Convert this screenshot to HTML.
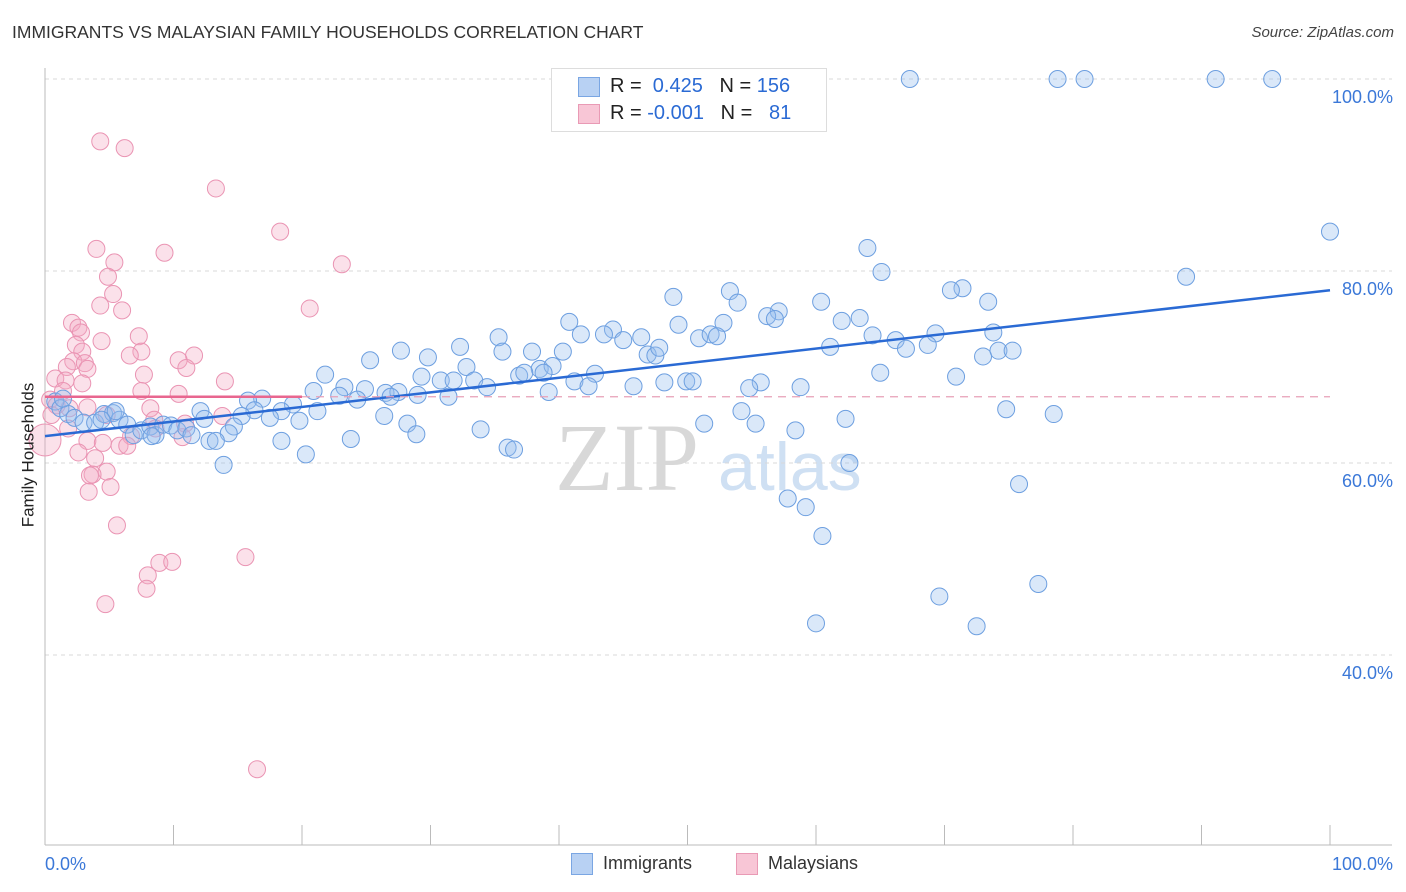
<!DOCTYPE html>
<html><head><meta charset="utf-8"><style>
body{margin:0;background:#fff;font-family:"Liberation Sans",sans-serif;}
#wrap{position:relative;width:1406px;height:892px;overflow:hidden;}
.t{position:absolute;white-space:nowrap;}
</style></head><body>
<div id="wrap">
<div class="t" style="left:12px;top:22px;font-size:17.5px;color:#333;">IMMIGRANTS VS MALAYSIAN FAMILY HOUSEHOLDS CORRELATION CHART</div>
<div class="t" style="right:12px;top:24px;font-size:15px;color:#444;font-style:italic;">Source: ZipAtlas.com</div>
<svg id="chart" width="1406" height="892" style="position:absolute;left:0;top:0;">
<text x="555" y="490" font-family="Liberation Serif,serif" font-size="96" fill="#d8d8d8">ZIP</text>
<text x="718" y="490" font-family="Liberation Sans,sans-serif" font-size="68" fill="#cfe0f3">atlas</text>
</svg>
<div class="t" style="left:-44px;top:445px;font-size:17px;color:#222;transform:rotate(-90deg);">Family Households</div>
<div style="position:absolute;left:551px;top:68px;width:274px;height:62px;border:1px solid #ddd;background:#fff;">
 <div style="position:absolute;left:26px;top:8px;width:20px;height:18px;background:#b8d1f3;border:1px solid #7aa6e3;"></div>
 <div class="t" style="left:58px;top:6px;font-size:20px;color:#222;">R = <span style="color:#2a6ad4">&nbsp;0.425</span>&nbsp;&nbsp;&nbsp;N = <span style="color:#2a6ad4">156</span></div>
 <div style="position:absolute;left:26px;top:35px;width:20px;height:18px;background:#f8c6d6;border:1px solid #e99ab5;"></div>
 <div class="t" style="left:58px;top:33px;font-size:20px;color:#222;">R = <span style="color:#2a6ad4">-0.001</span>&nbsp;&nbsp;&nbsp;N = <span style="color:#2a6ad4">&nbsp;&nbsp;81</span></div>
</div>
<div style="position:absolute;left:571px;top:853px;width:20px;height:20px;background:#b8d1f3;border:1px solid #7aa6e3;"></div>
<div class="t" style="left:603px;top:853px;font-size:18px;color:#333;">Immigrants</div>
<div style="position:absolute;left:736px;top:853px;width:20px;height:20px;background:#f8c6d6;border:1px solid #e99ab5;"></div>
<div class="t" style="left:768px;top:853px;font-size:18px;color:#333;">Malaysians</div>
</div>
<script>
const blueX=[67.3,78.8,80.9,91.1,95.5,100,88.8,64.0,65.1,71.4,70.5,73.4,60.4,53.3,53.9,48.9,57.1,56.2,56.8,63.4,62.0,52.8,49.3,40.8,44.2,43.5,41.7,45.0,46.4,50.9,51.8,52.3,64.4,66.2,69.3,73.8,61.1,67.0,68.7,74.2,75.3,73.0,35.3,32.3,27.7,25.3,29.8,35.6,37.9,40.3,46.9,47.5,47.8,38.5,39.5,32.8,42.8,65.0,70.9,29.3,30.8,31.8,33.4,34.4,36.9,37.3,38.8,41.2,42.3,45.8,48.2,49.9,50.4,55.7,54.8,58.8,21.8,23.3,20.9,22.9,24.9,26.5,27.5,26.9,24.3,29.0,31.4,39.2,16.9,15.8,19.3,21.2,18.4,16.3,15.3,17.5,19.8,12.1,12.4,26.4,28.2,28.9,33.9,51.3,54.2,55.3,58.4,62.3,74.8,78.5,14.7,14.3,12.8,13.3,18.4,23.8,20.3,36.0,36.5,13.9,62.6,75.8,57.8,59.2,60.5,77.3,69.6,72.5,60.0,0.8,1.2,1.8,2.3,3.0,3.9,4.6,5.3,5.8,6.4,6.9,7.5,8.2,8.6,9.2,9.8,10.3,11.0,11.4,8.3,1.4,4.4,5.5];
const blueY=[100,100,100,100,100,84.1,79.4,82.4,79.9,78.2,78.0,76.8,76.8,77.9,76.7,77.3,75.8,75.3,75.0,75.1,74.8,74.6,74.4,74.7,73.9,73.4,73.4,72.8,73.1,73.0,73.4,73.2,73.3,72.8,73.5,73.6,72.1,71.9,72.3,71.7,71.7,71.1,73.1,72.1,71.7,70.7,71.0,71.6,71.6,71.6,71.3,71.2,72.0,69.8,70.1,70.0,69.3,69.4,69.0,69.0,68.6,68.6,68.6,67.9,69.1,69.4,69.4,68.5,68.0,68.0,68.4,68.5,68.5,68.4,67.8,67.9,69.2,67.9,67.5,67.0,67.7,67.3,67.4,66.9,66.6,67.1,66.9,67.4,66.7,66.5,66.1,65.4,65.4,65.5,64.9,64.7,64.4,65.4,64.6,64.9,64.1,63.0,63.5,64.1,65.4,64.1,63.4,64.6,65.6,65.1,63.8,63.1,62.3,62.3,62.3,62.5,60.9,61.6,61.4,59.8,60.0,57.8,56.3,55.4,52.4,47.4,46.1,43.0,43.3,66.4,65.7,65.1,64.7,64.2,64.2,65.1,65.2,64.5,64.0,62.9,63.4,63.8,62.9,64.0,63.9,63.4,63.6,62.9,62.8,66.7,64.5,65.4];
const pinkX=[4.3,6.2,13.3,18.3,4.0,9.3,5.4,23.1,4.9,5.3,4.3,6.0,20.6,2.1,2.6,2.8,7.3,4.4,2.4,2.9,7.5,6.6,11.6,10.4,2.2,3.1,3.3,1.7,11.0,7.7,0.8,1.6,2.9,14.0,1.4,7.5,10.4,0.4,0.9,1.9,3.3,8.2,4.8,0.5,13.8,8.5,10.9,8.6,1.8,6.7,10.7,3.3,4.5,5.8,6.4,2.6,3.9,4.8,3.7,3.5,5.1,3.4,5.6,15.6,8.9,9.9,8.0,7.9,4.7,16.5,0];
const pinkY=[93.5,92.8,88.6,84.1,82.3,81.9,80.9,80.7,79.4,77.6,76.4,75.9,76.1,74.6,74.1,73.6,73.2,72.7,72.3,71.6,71.6,71.2,71.2,70.7,70.6,70.4,69.8,70.0,69.9,69.2,68.8,68.6,68.3,68.5,67.5,67.5,67.2,66.6,66.0,65.7,65.8,65.7,65.0,65.0,64.9,64.5,64.1,63.6,63.6,62.8,62.7,62.3,62.1,61.8,61.8,61.1,60.5,59.1,58.8,58.7,57.5,57.0,53.5,50.2,49.6,49.7,48.3,46.9,45.3,28.1,62.4];
const yTicks=[100,80,60,40];
const yTickLabels=["100.0%","80.0%","60.0%","40.0%"];
const blueTrend=[62.8,78.0];
const pinkTrend=66.9;
const NS="http://www.w3.org/2000/svg";
const svg=document.getElementById('chart');
const X0=45,X1=1330;
function sx(v){return X0+(X1-X0)*v/100;}
function sy(v){return 1039-9.6*v;}
function mk(t,a){const e=document.createElementNS(NS,t);for(const k in a)e.setAttribute(k,a[k]);svg.appendChild(e);return e;}
yTicks.forEach((t,i)=>{
 const g=mk('line',{x1:X0,x2:1392,y1:sy(t),y2:sy(t),stroke:'#d8d8d8','stroke-dasharray':'4,4'});
 
 
 const l=mk('text',{x:1393,y:sy(t)+24,'text-anchor':'end','font-size':18,fill:'#3b78d8','font-family':'Liberation Sans,sans-serif'});
 l.textContent=yTickLabels[i];
 
 
});
let ax=mk('line',{x1:X0,x2:X0,y1:68,y2:845,stroke:'#bbb'});


let bx=mk('line',{x1:X0,x2:1392,y1:845,y2:845,stroke:'#bbb'});


for(let i=0;i<=10;i++){
 const tk=mk('line',{x1:sx(i*10),x2:sx(i*10),y1:825,y2:845,stroke:'#bbb'});
 
 
}
[[0,'0.0%','start',X0],[100,'100.0%','end',1393]].forEach(d=>{
 const t=mk('text',{x:d[3],y:870,'text-anchor':d[2],'font-size':18,fill:'#3b78d8','font-family':'Liberation Sans,sans-serif'});
 t.textContent=d[1];
 
 
});
pinkX.forEach((x,i)=>{
 const c=mk('circle',{cx:sx(x),cy:sy(pinkY[i]),r:(i==pinkX.length-1?16:8.5),fill:'rgba(244,170,196,0.35)',stroke:'#ea94b3','stroke-width':1});
 
 
});
blueX.forEach((x,i)=>{
 const c=mk('circle',{cx:sx(x),cy:sy(blueY[i]),r:8.5,fill:'rgba(150,188,238,0.35)',stroke:'#6d9fe0','stroke-width':1});
 
 
});
const bl=mk('line',{x1:sx(0),x2:sx(100),y1:sy(blueTrend[0]),y2:sy(blueTrend[1]),stroke:'#2a6ad4','stroke-width':2.5});


const pl=mk('line',{x1:sx(0),x2:sx(20),y1:sy(pinkTrend),y2:sy(pinkTrend),stroke:'#e8668f','stroke-width':2.5});


const pd=mk('line',{x1:sx(20),x2:sx(100),y1:sy(pinkTrend),y2:sy(pinkTrend),stroke:'#e8a0b8','stroke-width':1.2,'stroke-dasharray':'8,6'});


</script>
</body></html>
